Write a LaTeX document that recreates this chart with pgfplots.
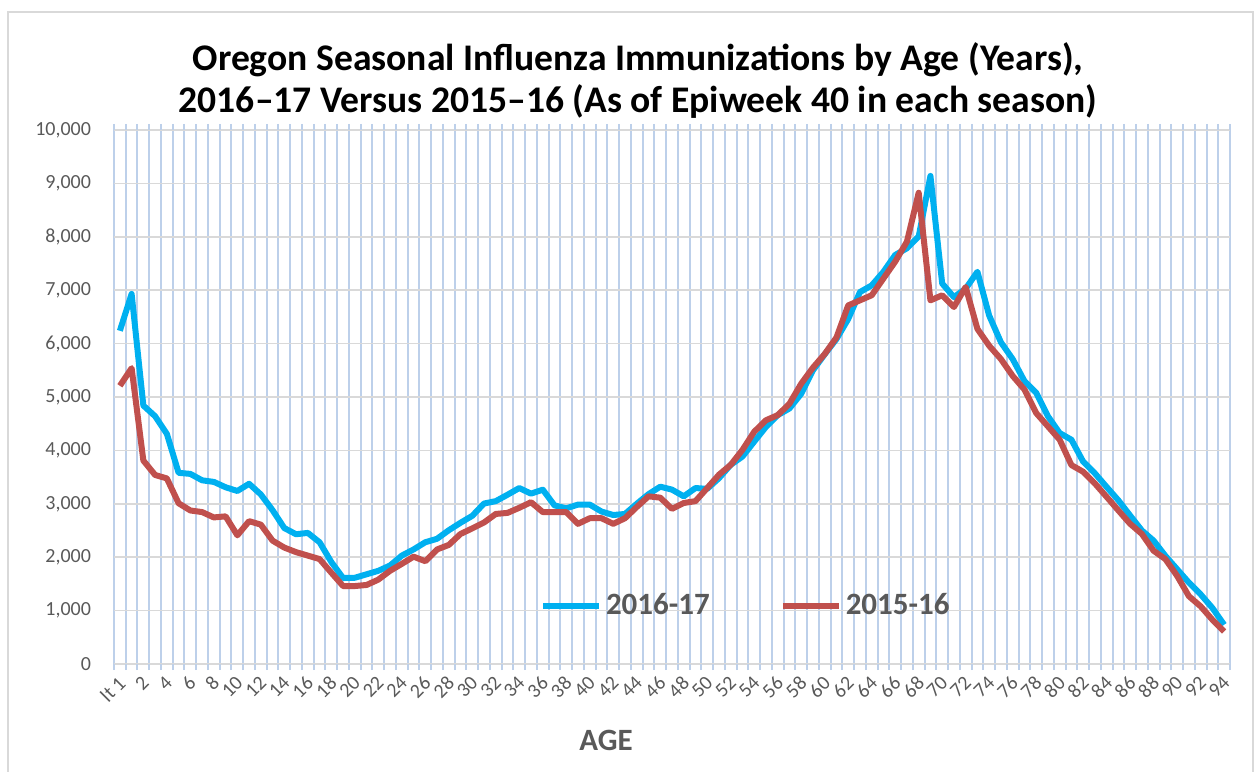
\documentclass[border=0pt]{standalone}
\usepackage{fontspec}
\setmainfont{Carlito}
\usepackage{pgfplots}
\pgfplotsset{compat=1.18}
\usepackage{pgfplotstable}
\definecolor{blueS}{HTML}{00B0F0}
\definecolor{redS}{HTML}{C0504D}
\definecolor{txtgray}{HTML}{595959}
\definecolor{vgrid}{HTML}{BDD0EA}
\definecolor{hgrid}{HTML}{D9D9D9}
\pgfplotstableread{
i b r
0 6240 5210
1 6930 5540
2 4840 3810
3 4640 3540
4 4310 3475
5 3580 3010
6 3560 2875
7 3440 2845
8 3410 2745
9 3310 2765
10 3240 2410
11 3375 2675
12 3175 2610
13 2880 2310
14 2545 2180
15 2430 2095
16 2455 2030
17 2280 1965
18 1910 1710
19 1610 1460
20 1615 1460
21 1680 1480
22 1745 1580
23 1845 1745
24 2030 1875
25 2145 2010
26 2280 1925
27 2345 2145
28 2505 2230
29 2645 2435
30 2775 2540
31 3005 2650
32 3050 2810
33 3170 2830
34 3295 2925
35 3190 3030
36 3265 2845
37 2970 2845
38 2915 2845
39 2985 2625
40 2985 2730
41 2855 2730
42 2790 2625
43 2810 2730
44 3000 2940
45 3180 3140
46 3320 3115
47 3265 2905
48 3140 3015
49 3295 3050
50 3280 3295
51 3480 3545
52 3730 3730
53 3885 4010
54 4165 4350
55 4440 4565
56 4660 4660
57 4785 4875
58 5060 5250
59 5500 5550
60 5800 5805
61 6085 6115
62 6460 6715
63 6965 6810
64 7090 6905
65 7345 7220
66 7660 7535
67 7785 7910
68 8005 8825
69 9140 6810
70 7125 6905
71 6870 6685
72 7030 7060
73 7345 6275
74 6525 5960
75 6025 5710
76 5710 5395
77 5300 5140
78 5080 4700
79 4640 4450
80 4325 4200
81 4200 3725
82 3790 3600
83 3570 3380
84 3315 3130
85 3065 2875
86 2780 2625
87 2500 2435
88 2310 2120
89 2025 1965
90 1775 1650
91 1525 1270
92 1305 1080
93 1050 830
94 735 610
}\data
\begin{document}
\begin{tikzpicture}
\useasboundingbox (-57pt,-53.5pt) rectangle (571pt,332pt);
\draw[hgrid, line width=0.6pt] (-53pt,-60pt) -- (-53pt,326pt) -- (569.5pt,326pt) -- (569.5pt,-60pt);
\begin{axis}[at={(0pt,0pt)}, anchor=south west, scale only axis,
  width=558pt, height=267pt,
  xmin=-0.5, xmax=94.5, ymin=0, ymax=10000,
  axis line style={draw=none},
  xtick={0,2,...,94},
  xticklabels={lt 1,2,4,6,8,10,12,14,16,18,20,22,24,26,28,30,32,34,36,38,40,42,44,46,48,50,52,54,56,58,60,62,64,66,68,70,72,74,76,78,80,82,84,86,88,90,92,94},
  minor xtick={-0.5,0.5,...,94.5},
  xminorgrids=true,
  minor grid style={vgrid, line width=1pt},
  ytick={0,1000,...,10000},
  ymajorgrids=true,
  major grid style={hgrid, line width=0.75pt},
  major tick length=0pt,
  minor tick length=3pt,
  tick align=outside,
  minor tick style={vgrid, line width=1pt},
  scaled y ticks=false,
  /pgf/number format/1000 sep={,},
  /pgf/number format/assume math mode=true,
  xticklabel style={yshift=-7.5pt, xshift=1.5pt, rotate=45, anchor=east, font=\fontsize{10}{11}\selectfont, text=txtgray, inner sep=0.5pt},
  yticklabel style={font=\fontsize{10}{12}\selectfont, text=txtgray, xshift=-8pt},
  legend style={at={(rel axis cs:0.567,0.109)}, anchor=center, draw=none, fill=none,
    font=\bfseries\fontsize{15.5}{18}\selectfont, text=txtgray,
    /tikz/every even column/.append style={column sep=33pt}},
  legend columns=2,
  legend image code/.code={\draw[#1] (0pt,0pt) -- (28pt,0pt);},
]
\addplot[blueS, line width=3pt, line join=round] table[x=i, y=b] {\data};
\addlegendentry{2016-17}
\addplot[redS, line width=3pt, line join=round] table[x=i, y=r] {\data};
\addlegendentry{2015-16}
\end{axis}
\node[font=\bfseries\fontsize{18.8}{22}\selectfont] at (262pt,302pt) {Oregon Seasonal Influenza Immunizations by Age (Years),};
\node[font=\bfseries\fontsize{18.8}{22}\selectfont] at (262pt,281pt) {2016–17 Versus 2015–16 (As of Epiweek 40 in each season)};
\node[font=\bfseries\fontsize{15.5}{18}\selectfont, text=txtgray] at (246pt,-38pt) {AGE};
\end{tikzpicture}
\end{document}
